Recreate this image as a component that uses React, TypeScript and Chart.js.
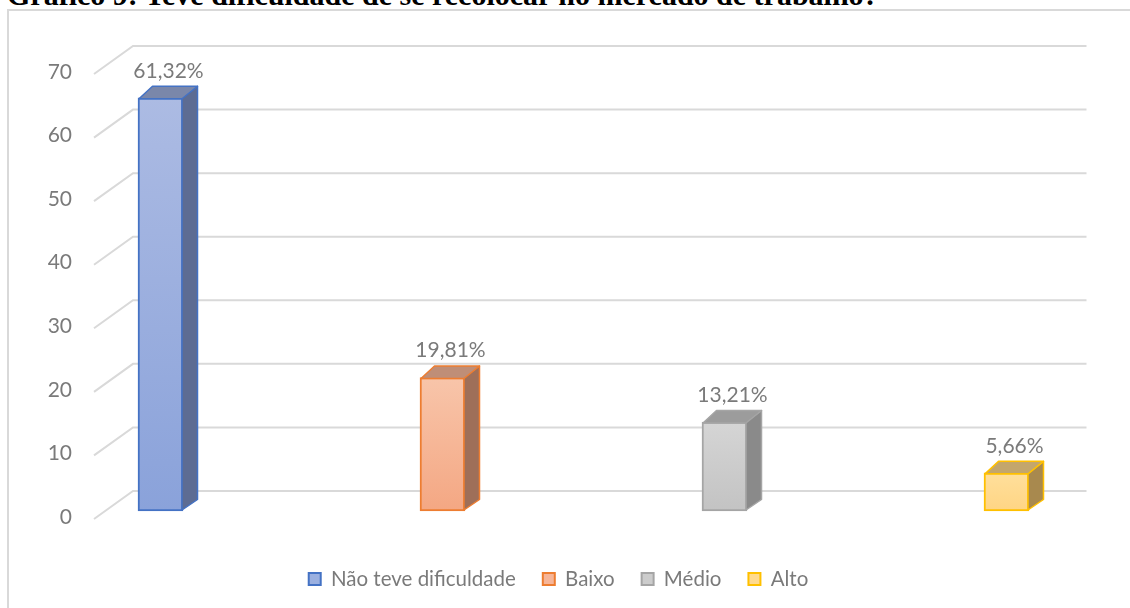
import React, { useEffect, useRef } from "react";
import { Chart, registerables } from "chart.js";

Chart.register(...registerables);

const titleText = "Gráfico 9: Teve dificuldade de se recolocar no mercado de trabalho?";
const categories = ["Não teve dificuldade", "Baixo", "Médio", "Alto"];
const counts = [65, 21, 14, 6];
const percentLabels = ["61,32%", "19,81%", "13,21%", "5,66%"];
const yMin = 0;
const yMax = 70;
const yStep = 10;

const frontTop = ["#acbbe3", "#f8c5aa", "#d5d5d5", "#ffdf9b"];
const frontBottom = ["#8aa2da", "#f4a783", "#c3c3c3", "#ffd584"];
const borderCols = ["#4472c4", "#ed7d31", "#a5a5a5", "#ffc000"];
const sideCols = ["#5d6c93", "#9e6f59", "#8a8a8a", "#a8894e"];
const topCols = ["#7a87aa", "#bf8e77", "#9c9c9c", "#c3a66c"];
const legendFill = ["#9bb0e0", "#f6b598", "#cccccc", "#ffda90"];

const FONT = "Lato, 'Open Sans', sans-serif";
const FONT_SIZE = 21;
const LEGEND_FONT_SIZE = 20.5;
const TEXT = "#7a7a7a";
const GRID = "#d9d9d9";
const DX = 14.5;
const DY = -11.5;

const wallPlugin = {
  id: "wall3d",
  beforeDatasetsDraw(chart: any) {
    const ys = chart.scales.y;
    const ca = chart.chartArea;
    const ctx = chart.ctx;
    const axisX = ca.left - 66.5;
    const wallX = ca.left - 27.5;
    const rightX = ca.right + 80;
    ctx.save();
    ctx.strokeStyle = GRID;
    ctx.lineWidth = 2;
    for (let v = yMin; v <= yMax; v += yStep) {
      const p = ys.getPixelForValue(v);
      ctx.beginPath();
      ctx.moveTo(axisX, p + 8);
      ctx.lineTo(wallX, p - 20);
      ctx.lineTo(rightX, p - 20);
      ctx.stroke();
    }
    ctx.restore();
  },
  afterDatasetsDraw(chart: any) {
    const ctx = chart.ctx;
    chart.data.datasets.forEach((ds: any, i: number) => {
      const meta = chart.getDatasetMeta(i);
      meta.data.forEach((el: any, j: number) => {
        if (ds.data[j] == null) return;
        const { x, y, base, width } = el.getProps(["x", "y", "base", "width"], true);
        const L = x - width / 2;
        const R = x + width / 2;
        ctx.save();
        ctx.lineJoin = "round";
        ctx.lineWidth = 1.5;
        ctx.strokeStyle = borderCols[i];
        // side face
        ctx.beginPath();
        ctx.moveTo(R - 1, y);
        ctx.lineTo(R + DX, y + DY);
        ctx.lineTo(R + DX, base + DY);
        ctx.lineTo(R - 1, base - 1);
        ctx.closePath();
        ctx.fillStyle = sideCols[i];
        ctx.fill();
        ctx.stroke();
        // top face
        ctx.beginPath();
        ctx.moveTo(L + 1, y + 1);
        ctx.lineTo(L + DX, y + DY);
        ctx.lineTo(R + DX, y + DY);
        ctx.lineTo(R - 1, y + 1);
        ctx.closePath();
        ctx.fillStyle = topCols[i];
        ctx.fill();
        ctx.stroke();
        // value label
        ctx.fillStyle = TEXT;
        ctx.font = `${FONT_SIZE}px ${FONT}`;
        ctx.textAlign = "center";
        ctx.textBaseline = "middle";
        ctx.fillText(percentLabels[i], x + 8, y - 27);
        ctx.restore();
      });
    });
  },
};

export default function App() {
  const canvasRef = useRef<HTMLCanvasElement | null>(null);

  useEffect(() => {
    const canvas = canvasRef.current;
    if (!canvas) return;
    const datasets = categories.map((name, i) => ({
      label: name,
      data: counts.map((v, j) => (j === i ? v : null)),
      backgroundColor: (c: any) => {
        const chart = c.chart;
        const ys = chart.scales && chart.scales.y;
        if (!ys || c.type !== "data" || c.raw == null) return frontBottom[i];
        const top = ys.getPixelForValue(c.raw);
        const bot = ys.getPixelForValue(0);
        if (!isFinite(top) || !isFinite(bot)) return frontBottom[i];
        const g = chart.ctx.createLinearGradient(0, top, 0, bot);
        g.addColorStop(0, frontTop[i]);
        g.addColorStop(1, frontBottom[i]);
        return g;
      },
      borderColor: borderCols[i],
      borderWidth: 2,
      borderSkipped: false,
      barThickness: 45,
      skipNull: true,
      clip: false as any,
    }));

    const chart = new Chart(canvas, {
      type: "bar",
      data: { labels: categories, datasets: datasets as any },
      options: {
        responsive: false,
        animation: false,
        devicePixelRatio: 1,
        layout: { padding: { top: 66, left: 0, right: 13, bottom: 8.75 } },
        scales: {
          x: {
            display: true,
            offset: false,
            ticks: { display: false },
            grid: { display: false, drawTicks: false },
            border: { display: false },
            afterFit: (s: any) => {
              s.height = 30.75;
            },
          },
          y: {
            min: yMin,
            max: yMax,
            ticks: {
              stepSize: yStep,
              padding: 88.5,
              labelOffset: 6,
              color: TEXT,
              font: { family: FONT, size: FONT_SIZE },
            },
            grid: { display: false, drawTicks: false },
            border: { display: false },
            afterFit: (s: any) => {
              s.width = 160.5;
              s.paddingTop = 0;
              s.paddingBottom = 0;
            },
          },
          y2: {
            position: "right",
            display: true,
            ticks: { display: false },
            grid: { display: false, drawTicks: false },
            border: { display: false },
            afterFit: (s: any) => {
              s.width = 110.5;
              s.paddingTop = 0;
              s.paddingBottom = 0;
            },
          },
        },
        plugins: {
          tooltip: { enabled: false },
          legend: {
            position: "bottom",
            labels: {
              boxWidth: 12,
              boxHeight: 12,
              padding: 27,
              color: TEXT,
              font: { family: FONT, size: LEGEND_FONT_SIZE },
              generateLabels: () =>
                categories.map((c, i) => ({
                  text: c,
                  fillStyle: legendFill[i],
                  strokeStyle: borderCols[i],
                  lineWidth: 2,
                  hidden: false,
                  datasetIndex: i,
                  fontColor: TEXT,
                })) as any,
            },
          },
        },
      },
      plugins: [wallPlugin],
    });
    return () => chart.destroy();
  }, []);

  return (
    <div
      style={{
        position: "fixed",
        left: 0,
        top: 0,
        width: 1130,
        height: 608,
        overflow: "hidden",
        background: "#ffffff",
      }}
    >
      <div
        style={{
          position: "absolute",
          left: 7,
          top: 9,
          width: 1300,
          height: 800,
          border: "2px solid #d9d9d9",
          boxSizing: "border-box",
        }}
      />
      <div
        style={{
          position: "absolute",
          left: 7,
          top: -20,
          fontFamily: "'Liberation Serif', 'Times New Roman', serif",
          fontWeight: "bold",
          fontSize: 30,
          lineHeight: "30px",
          whiteSpace: "nowrap",
          color: "#000",
        }}
      >
        {titleText}
      </div>
      <canvas
        ref={canvasRef}
        width={1130}
        height={608}
        style={{ position: "absolute", left: 0, top: 0, width: 1130, height: 608 }}
      />
    </div>
  );
}
